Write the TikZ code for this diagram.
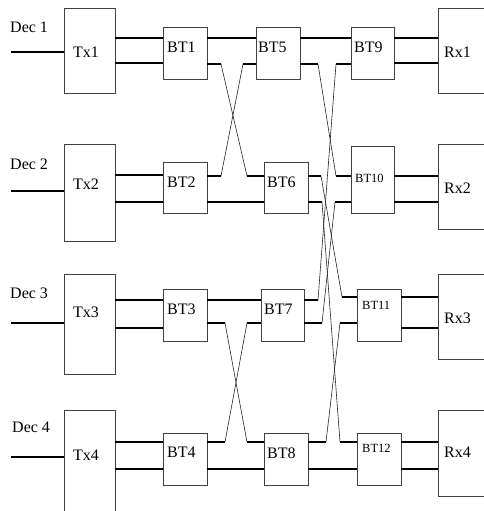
\documentclass[tikz,border=0pt]{standalone}
\usepackage{fontspec}
\setmainfont{Liberation Serif}
\begin{document}
\begin{tikzpicture}[x=1pt,y=-1pt,
  box/.style={draw=black!75,line width=0.9pt,rectangle,inner sep=0pt,outer sep=0pt,anchor=north west},
  lbl/.style={anchor=west,inner sep=0pt,font=\fontsize{16}{16}\selectfont},
  slbl/.style={anchor=west,inner sep=0pt,font=\fontsize{12.5}{12.5}\selectfont},
  wire/.style={line width=1.2pt,black},
  cross/.style={line width=0.6pt,black!85}]
\useasboundingbox (0,0) rectangle (484,511);
\clip (0,0) rectangle (484,511);
% boxes
\newcommand{\bx}[5]{\node[box,minimum width=#4-#2,minimum height=#5-#3] (#1) at (#2,#3) {};}
\bx{Tx1}{64}{8}{115}{93}
\bx{Tx2}{64}{144}{115}{241}
\bx{Tx3}{64}{274}{115}{374}
\bx{Tx4}{64}{410}{115}{530}
\bx{BT1}{163}{27}{207}{79}
\bx{BT2}{163}{162}{207}{213}
\bx{BT3}{163}{289}{207}{341}
\bx{BT4}{163}{433}{207}{485}
\bx{BT5}{256}{27}{300}{79}
\bx{BT6}{264}{162}{308}{213}
\bx{BT7}{261}{289}{304}{341}
\bx{BT8}{264}{433}{308}{485}
\bx{BT9}{351}{27}{394}{79}
\bx{BT10}{351}{146}{394}{213}
\bx{BT11}{357}{289}{401}{341}
\bx{BT12}{357}{433}{401}{485}
\bx{Rx1}{438}{8}{500}{93}
\bx{Rx2}{438}{144}{500}{229}
\bx{Rx3}{438}{274}{500}{359}
\bx{Rx4}{438}{410}{500}{496}
% labels
\node[lbl] (d1t) at (10,27) {Dec 1};
\node[lbl] (d2t) at (10,164) {Dec 2};
\node[lbl] (d3t) at (10,293) {Dec 3};
\node[lbl] (d4t) at (12,427) {Dec 4};
\node[lbl] (tx1t) at (73,52) {Tx1};
\node[lbl] (tx2t) at (73,184) {Tx2};
\node[lbl] (tx3t) at (73,312) {Tx3};
\node[lbl] (tx4t) at (73,455) {Tx4};
\node[lbl] (b1t) at (167,47) {BT1};
\node[lbl] (b2t) at (167,182) {BT2};
\node[lbl] (b3t) at (167,309) {BT3};
\node[lbl] (b4t) at (167,452) {BT4};
\node[lbl] (b5t) at (258,47) {BT5};
\node[lbl] (b6t) at (267,182) {BT6};
\node[lbl] (b7t) at (264,309) {BT7};
\node[lbl] (b8t) at (267,453) {BT8};
\node[lbl] (b9t) at (354,47) {BT9};
\node[slbl] (b10t) at (355,178) {BT10};
\node[slbl] (b11t) at (362,305) {BT11};
\node[slbl] (b12t) at (362,448) {BT12};
\node[lbl] (rx1t) at (444,52) {Rx1};
\node[lbl] (rx2t) at (444,188) {Rx2};
\node[lbl] (rx3t) at (444,318) {Rx3};
\node[lbl] (rx4t) at (444,452) {Rx4};
% Dec inputs
\coordinate (d1) at (11,52);
\coordinate (d2) at (11,191);
\coordinate (d3) at (11,323);
\coordinate (d4) at (11,457);
\draw[wire] (d1) -- (Tx1.west |- d1);
\draw[wire] (d2) -- (Tx2.west |- d2);
\draw[wire] (d3) -- (Tx3.west |- d3);
\draw[wire] (d4) -- (Tx4.west |- d4);
% Tx -> BT
\draw[wire] (Tx1.east |- 0,38) -- (BT1.west |- 0,38);
\draw[wire] (Tx1.east |- 0,63) -- (BT1.west |- 0,63);
\draw[wire] (Tx2.east |- 0,175) -- (BT2.west |- 0,175);
\draw[wire] (Tx2.east |- 0,202) -- (BT2.west |- 0,202);
\draw[wire] (Tx3.east |- 0,300) -- (BT3.west |- 0,300);
\draw[wire] (Tx3.east |- 0,328) -- (BT3.west |- 0,328);
\draw[wire] (Tx4.east |- 0,442) -- (BT4.west |- 0,442);
\draw[wire] (Tx4.east |- 0,469) -- (BT4.west |- 0,469);
% stage 1 -> 2 straight
\draw[wire] (BT1.east |- 0,38) -- (BT5.west |- 0,38);
\draw[wire] (BT2.east |- 0,202) -- (BT6.west |- 0,202);
\draw[wire] (BT3.east |- 0,300) -- (BT7.west |- 0,300);
\draw[wire] (BT4.east |- 0,469) -- (BT8.west |- 0,469);
% stage 1 -> 2 crossings
\draw[cross] (221,64) -- (247,176);
\draw[wire] (BT1.east |- 0,64) -- (221,64) (247,176) -- (BT6.west |- 0,176);
\draw[cross] (221,176) -- (243,64);
\draw[wire] (BT2.east |- 0,176) -- (221,176) (243,64) -- (BT5.west |- 0,64);
\draw[cross] (225,323) -- (247,442);
\draw[wire] (BT3.east |- 0,323) -- (225,323) (247,442) -- (BT8.west |- 0,442);
\draw[cross] (225,442) -- (247,323);
\draw[wire] (BT4.east |- 0,442) -- (225,442) (247,323) -- (BT7.west |- 0,323);
% stage 2 -> 3 straight
\draw[wire] (BT5.east |- 0,38) -- (BT9.west |- 0,38);
\draw[wire] (BT8.east |- 0,469) -- (BT12.west |- 0,469);
% stage 2 -> 3 crossings
\draw[cross] (318,64) -- (336,176);
\draw[wire] (BT5.east |- 0,64) -- (318,64) (336,176) -- (BT10.west |- 0,176);
\draw[cross] (318,300) -- (336,64);
\draw[wire] (BT7.east |- 0,300) -- (318,300) (336,64) -- (BT9.west |- 0,64);
\draw[cross] (321,176) -- (342,297);
\draw[wire] (BT6.east |- 0,176) -- (321,176) (342,297) -- (BT11.west |- 0,297);
\draw[cross] (322,202) -- (340,442);
\draw[wire] (BT6.east |- 0,202) -- (322,202) (340,442) -- (BT12.west |- 0,442);
\draw[cross] (322,323) -- (335,202);
\draw[wire] (BT7.east |- 0,323) -- (322,323) (335,202) -- (BT10.west |- 0,202);
\draw[cross] (326,442) -- (340,323);
\draw[wire] (BT8.east |- 0,442) -- (326,442) (340,323) -- (BT11.west |- 0,323);
% stage 3 -> Rx
\draw[wire] (BT9.east |- 0,38) -- (Rx1.west |- 0,38);
\draw[wire] (BT9.east |- 0,63) -- (Rx1.west |- 0,63);
\draw[wire] (BT10.east |- 0,176) -- (Rx2.west |- 0,176);
\draw[wire] (BT10.east |- 0,202) -- (Rx2.west |- 0,202);
\draw[wire] (BT11.east |- 0,297) -- (Rx3.west |- 0,297);
\draw[wire] (BT11.east |- 0,328) -- (Rx3.west |- 0,328);
\draw[wire] (BT12.east |- 0,442) -- (Rx4.west |- 0,442);
\draw[wire] (BT12.east |- 0,469) -- (Rx4.west |- 0,469);
\end{tikzpicture}
\end{document}
